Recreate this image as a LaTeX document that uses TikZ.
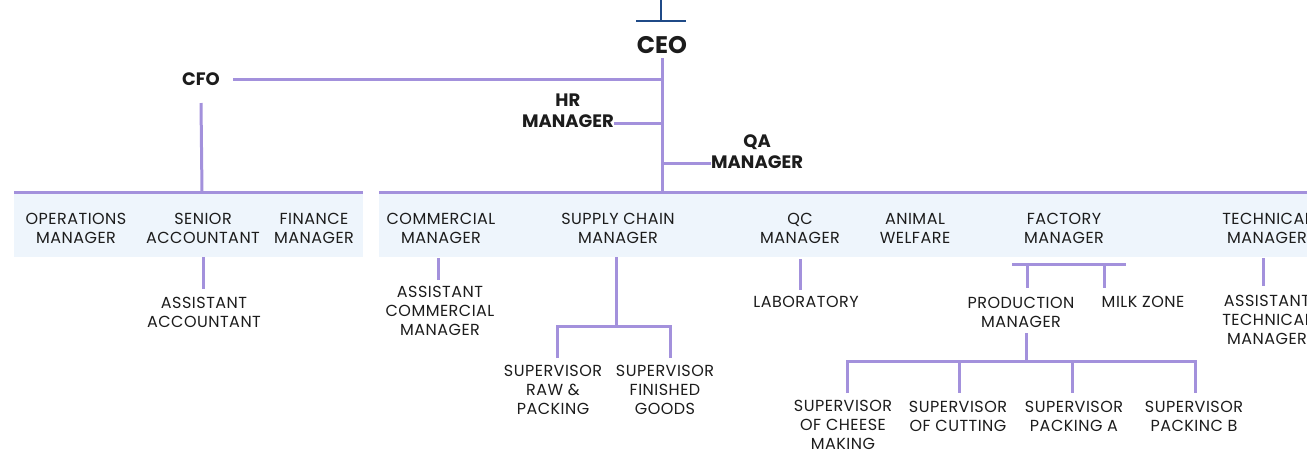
\documentclass[tikz,border=0pt]{standalone}
\usepackage{fontspec}
\setmainfont{Poppins}
\definecolor{ln}{HTML}{A391DC}
\definecolor{bandc}{HTML}{EEF5FC}
\definecolor{darkb}{HTML}{1F4A87}
\definecolor{txt}{HTML}{1C1C1C}
\begin{document}
\begin{tikzpicture}[x=1pt,y=-1pt,
  conn/.style={draw=ln,line width=3pt},
  lbl/.style={inner sep=0pt,align=center,text=txt,font=\fontsize{16}{19}\selectfont\addfontfeature{LetterSpace=3}},
  boss/.style={inner sep=0pt,align=center,text=txt,font=\bfseries\fontsize{18}{21}\selectfont}]
\useasboundingbox (0,0) rectangle (1307,451);
\clip (0,0) rectangle (1307,451);
% bands
\fill[bandc] (14,192) rectangle (363,257);
\fill[bandc] (379,192) rectangle (1307,257);
% top T
\draw[darkb,line width=2.5pt] (661,0) -- (661,20);
\draw[darkb,line width=2.5pt] (636,21) -- (686,21);
% top nodes
\node[inner sep=0pt,text=txt,font=\bfseries\fontsize{24}{26}\selectfont] (ceo) at (662,45) {CEO};
\node[boss] (cfo) at (201,79) {CFO};
\node[boss,anchor=east] (hr) at (614,111) {HR\\MANAGER};
\node[boss,anchor=west] (qa) at (711,152) {QA\\MANAGER};
% left band labels
\node[lbl] (ops) at (76,228) {OPERATIONS\\MANAGER};
\node[lbl] (sacc) at (203,228) {SENIOR\\ACCOUNTANT};
\node[lbl] (fin) at (314,228) {FINANCE\\MANAGER};
\node[lbl] (aacc) at (204,312) {ASSISTANT\\ACCOUNTANT};
% right band labels
\node[lbl] (com) at (441,228) {COMMERCIAL\\MANAGER};
\node[lbl] (scm) at (618,228) {SUPPLY CHAIN\\MANAGER};
\node[lbl] (qc) at (800,228) {QC\\MANAGER};
\node[lbl] (aw) at (915,228) {ANIMAL\\WELFARE};
\node[lbl] (fac) at (1064,228) {FACTORY\\MANAGER};
\node[lbl] (tech) at (1267,228) {TECHNICAL\\MANAGER};
% children
\node[lbl] (acom) at (440,311) {ASSISTANT\\COMMERCIAL\\MANAGER};
\node[lbl] (sraw) at (553,390) {SUPERVISOR\\RAW \&\\PACKING};
\node[lbl] (sfin) at (665,390) {SUPERVISOR\\FINISHED\\GOODS};
\node[lbl] (lab) at (806,302) {LABORATORY};
\node[lbl] (prod) at (1021,312) {PRODUCTION\\MANAGER};
\node[lbl] (milk) at (1143,302) {MILK ZONE};
\node[lbl] (atech) at (1267,320) {ASSISTANT\\TECHNICAL\\MANAGER};
\node[lbl] (scheese) at (843,425) {SUPERVISOR\\OF CHEESE\\MAKING};
\node[lbl] (scut) at (958,416) {SUPERVISOR\\OF CUTTING};
\node[lbl] (spa) at (1074,416) {SUPERVISOR\\PACKING A};
\node[lbl] (spb) at (1194,416) {SUPERVISOR\\PACKINC B};
% junction coordinates
\coordinate (trunkbot) at (662,192);
\coordinate (cfobot) at (202,192);
% CEO trunk and staff
\draw[conn] (ceo.south |- 0,58) -- (trunkbot);
\draw[conn] (233,79) -- (cfo -| ceo);
\draw[conn] (hr.east |- 0,123) -- (662,123);
\draw[conn] (662,163) -- (qa.west |- 0,163);
\draw[conn] (cfo.south |- 0,103) -- (cfobot);
% band top lines
\draw[conn] (14,192) -- (363,192);
\draw[conn] (379,192) -- (1307,192);
% left children
\draw[conn] (203,257) -- (203,289);
% commercial
\draw[conn] (438,258) -- (438,280);
% supply chain
\draw[conn] (616,257) -- (616,326);
\draw[conn] (557,358) -- (557,326) -- (670,326) -- (670,358);
% qc
\draw[conn] (800,259) -- (800,290);
% factory
\draw[conn] (1012,264) -- (1126,264);
\draw[conn] (1027,264) -- (1027,288);
\draw[conn] (1104,264) -- (1104,288);
% production
\draw[conn] (1026,333) -- (1026,361);
\draw[conn] (847,393) -- (847,361) -- (1195,361) -- (1195,393);
\draw[conn] (959,361) -- (959,393);
\draw[conn] (1072,361) -- (1072,393);
% technical
\draw[conn] (1263,258) -- (1263,286);
\end{tikzpicture}
\end{document}
